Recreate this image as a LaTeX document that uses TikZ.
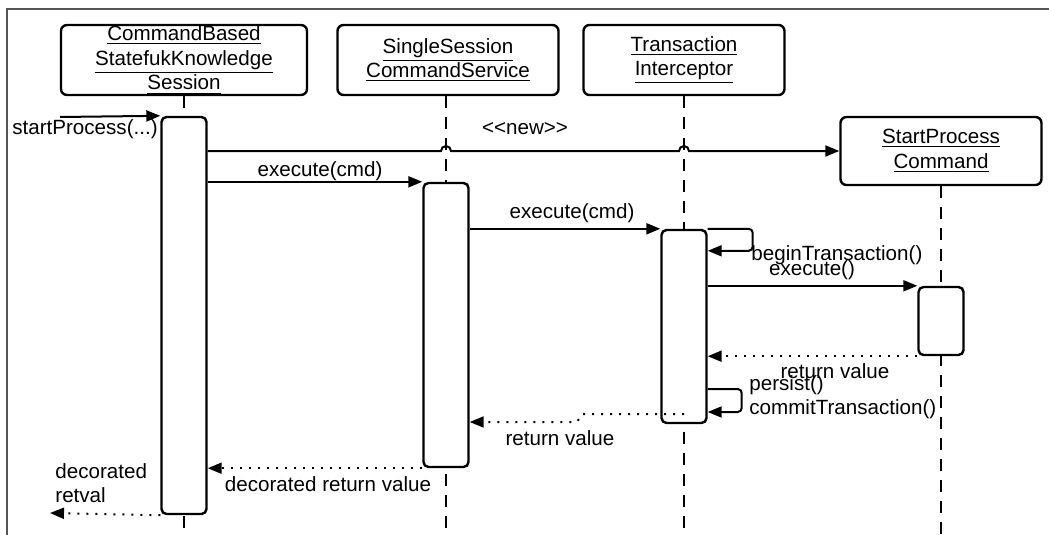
\documentclass[tikz,border=0pt]{standalone}
\usepackage{fontspec}
\setmainfont{Liberation Sans}
\usepackage{xcolor}
\usetikzlibrary{arrows.meta, positioning, calc}
\definecolor{framegray}{RGB}{85, 85, 85}

\begin{document}
\begin{tikzpicture}[x=0.5pt, y=-0.5pt,
        every node/.style={font=\fontsize{10.3}{12.3}\selectfont, inner sep=1pt},
        object/.style={draw, rounded corners=3pt, line width=1.2pt, align=center, inner sep=0pt, fill=white},
        activation/.style={draw, rounded corners=2.5pt, line width=1.2pt, minimum width=22.5pt, inner sep=0pt, fill=white},
        lifeline/.style={line width=1pt, dash pattern=on 6pt off 4.5pt},
        call/.style={-{Triangle[length=7pt, width=5.5pt]}, line width=1pt},
        reply/.style={call, dash pattern=on 1pt off 3.5pt}]
        \useasboundingbox (0,0) rectangle (1049,535);

        % Frame
        \draw[framegray, line width=1pt] (7,535) |- (1049,9);

        % Objects
        \node[object, minimum width=123pt, minimum height=35pt] (kSession) at (184,60) {\underline{CommandBased}\\\underline{StatefukKnowledge}\\\underline{Session}};
        \node[object, minimum width=110.5pt, minimum height=35pt] (cmdService) at (448,60) {\underline{SingleSession}\\\underline{CommandService}};
        \node[object, minimum width=100.5pt, minimum height=35pt] (txInterceptor) at (684,60) {\underline{Transaction}\\\underline{Interceptor}};
        \node[object, minimum width=100.5pt, minimum height=34pt] (spCommand) at (941,151) {\underline{StartProcess}\\\underline{Command}};

        % Lifelines
        \draw[lifeline] (kSession.south) -- (kSession.south |- 0,535);
        \draw[lifeline] (cmdService.south) ++(-2,0) -- ++(0,440);
        \draw[lifeline] (txInterceptor.south) -- (txInterceptor.south |- 0,535);
        \draw[lifeline] (spCommand.south) -- (spCommand.south |- 0,535);

        % Activations
        \node[activation, minimum height=198.5pt] (actSession) at (184,315.5) {};
        \node[activation, minimum height=142pt] (actService) at (446,325) {};
        \node[activation, minimum height=96.5pt] (actInterceptor) at (684,326.5) {};
        \node[activation, minimum height=34pt] (actCommand) at (941,321) {};

        % Calls
        \coordinate (entry) at (60,117);
        \draw[call] (entry) -- (actSession.north west);
        \node (lblStart) at (85,129) {startProcess(...)};

        \draw[call] (actSession.east |- spCommand.west) -- (441,151) arc[start angle=180, end angle=0, radius=2.5pt] -- (679,151) arc[start angle=180, end angle=0, radius=2.5pt] -- (spCommand.west);
        \node (lblNew) at (525,129) {<\kern0pt<new>\kern0pt>};

        \draw[call] (actSession.east |- actService.north) -- (actService.north west);
        \node (lblExecA) at (320,171) {execute(cmd)};

        \draw[call] (actService.east |- actInterceptor.north) -- (actInterceptor.north west);
        \node (lblExecB) at (572,213) {execute(cmd)};

        \draw[call, rounded corners=2pt] (actInterceptor.north east) -- ++(45,0) -- ++(0,22) -- ++(-45,0);
        \node[anchor=west] (lblBegin) at (749,255) {beginTransaction()};

        \draw[call] (actInterceptor.east |- actCommand.north) -- (actCommand.north west);
        \node (lblExecC) at (812,270) {execute()};

        \draw[call, rounded corners=2pt] (actInterceptor.east |- 0,389) -- ++(34,0) -- ++(0,23) -- ++(-34,0);
        \node[anchor=west, align=left] (lblCommit) at (747,397) {persist()\\commitTransaction()};

        % Replies
        \draw[reply] (actCommand.south west) -- (actInterceptor.east |- actCommand.south);
        \node (lblRetA) at (835,371) {return value};

        \draw[reply] (actInterceptor.center |- 0,414) -- (582,414) -- (577,422) -- (actService.east |- 0,422);
        \node (lblRetB) at (560,438) {return value};

        \draw[reply] (actService.south west) -- (actSession.east |- actService.south);
        \node (lblDecorated) at (328,484) {decorated return value};

        \coordinate (exit) at (50,513);
        \draw[reply] (actSession.south west) -- (exit);
        \node[anchor=west, align=left] (lblRetval) at (53,483) {decorated\\retval};
    \end{tikzpicture}
\end{document}
